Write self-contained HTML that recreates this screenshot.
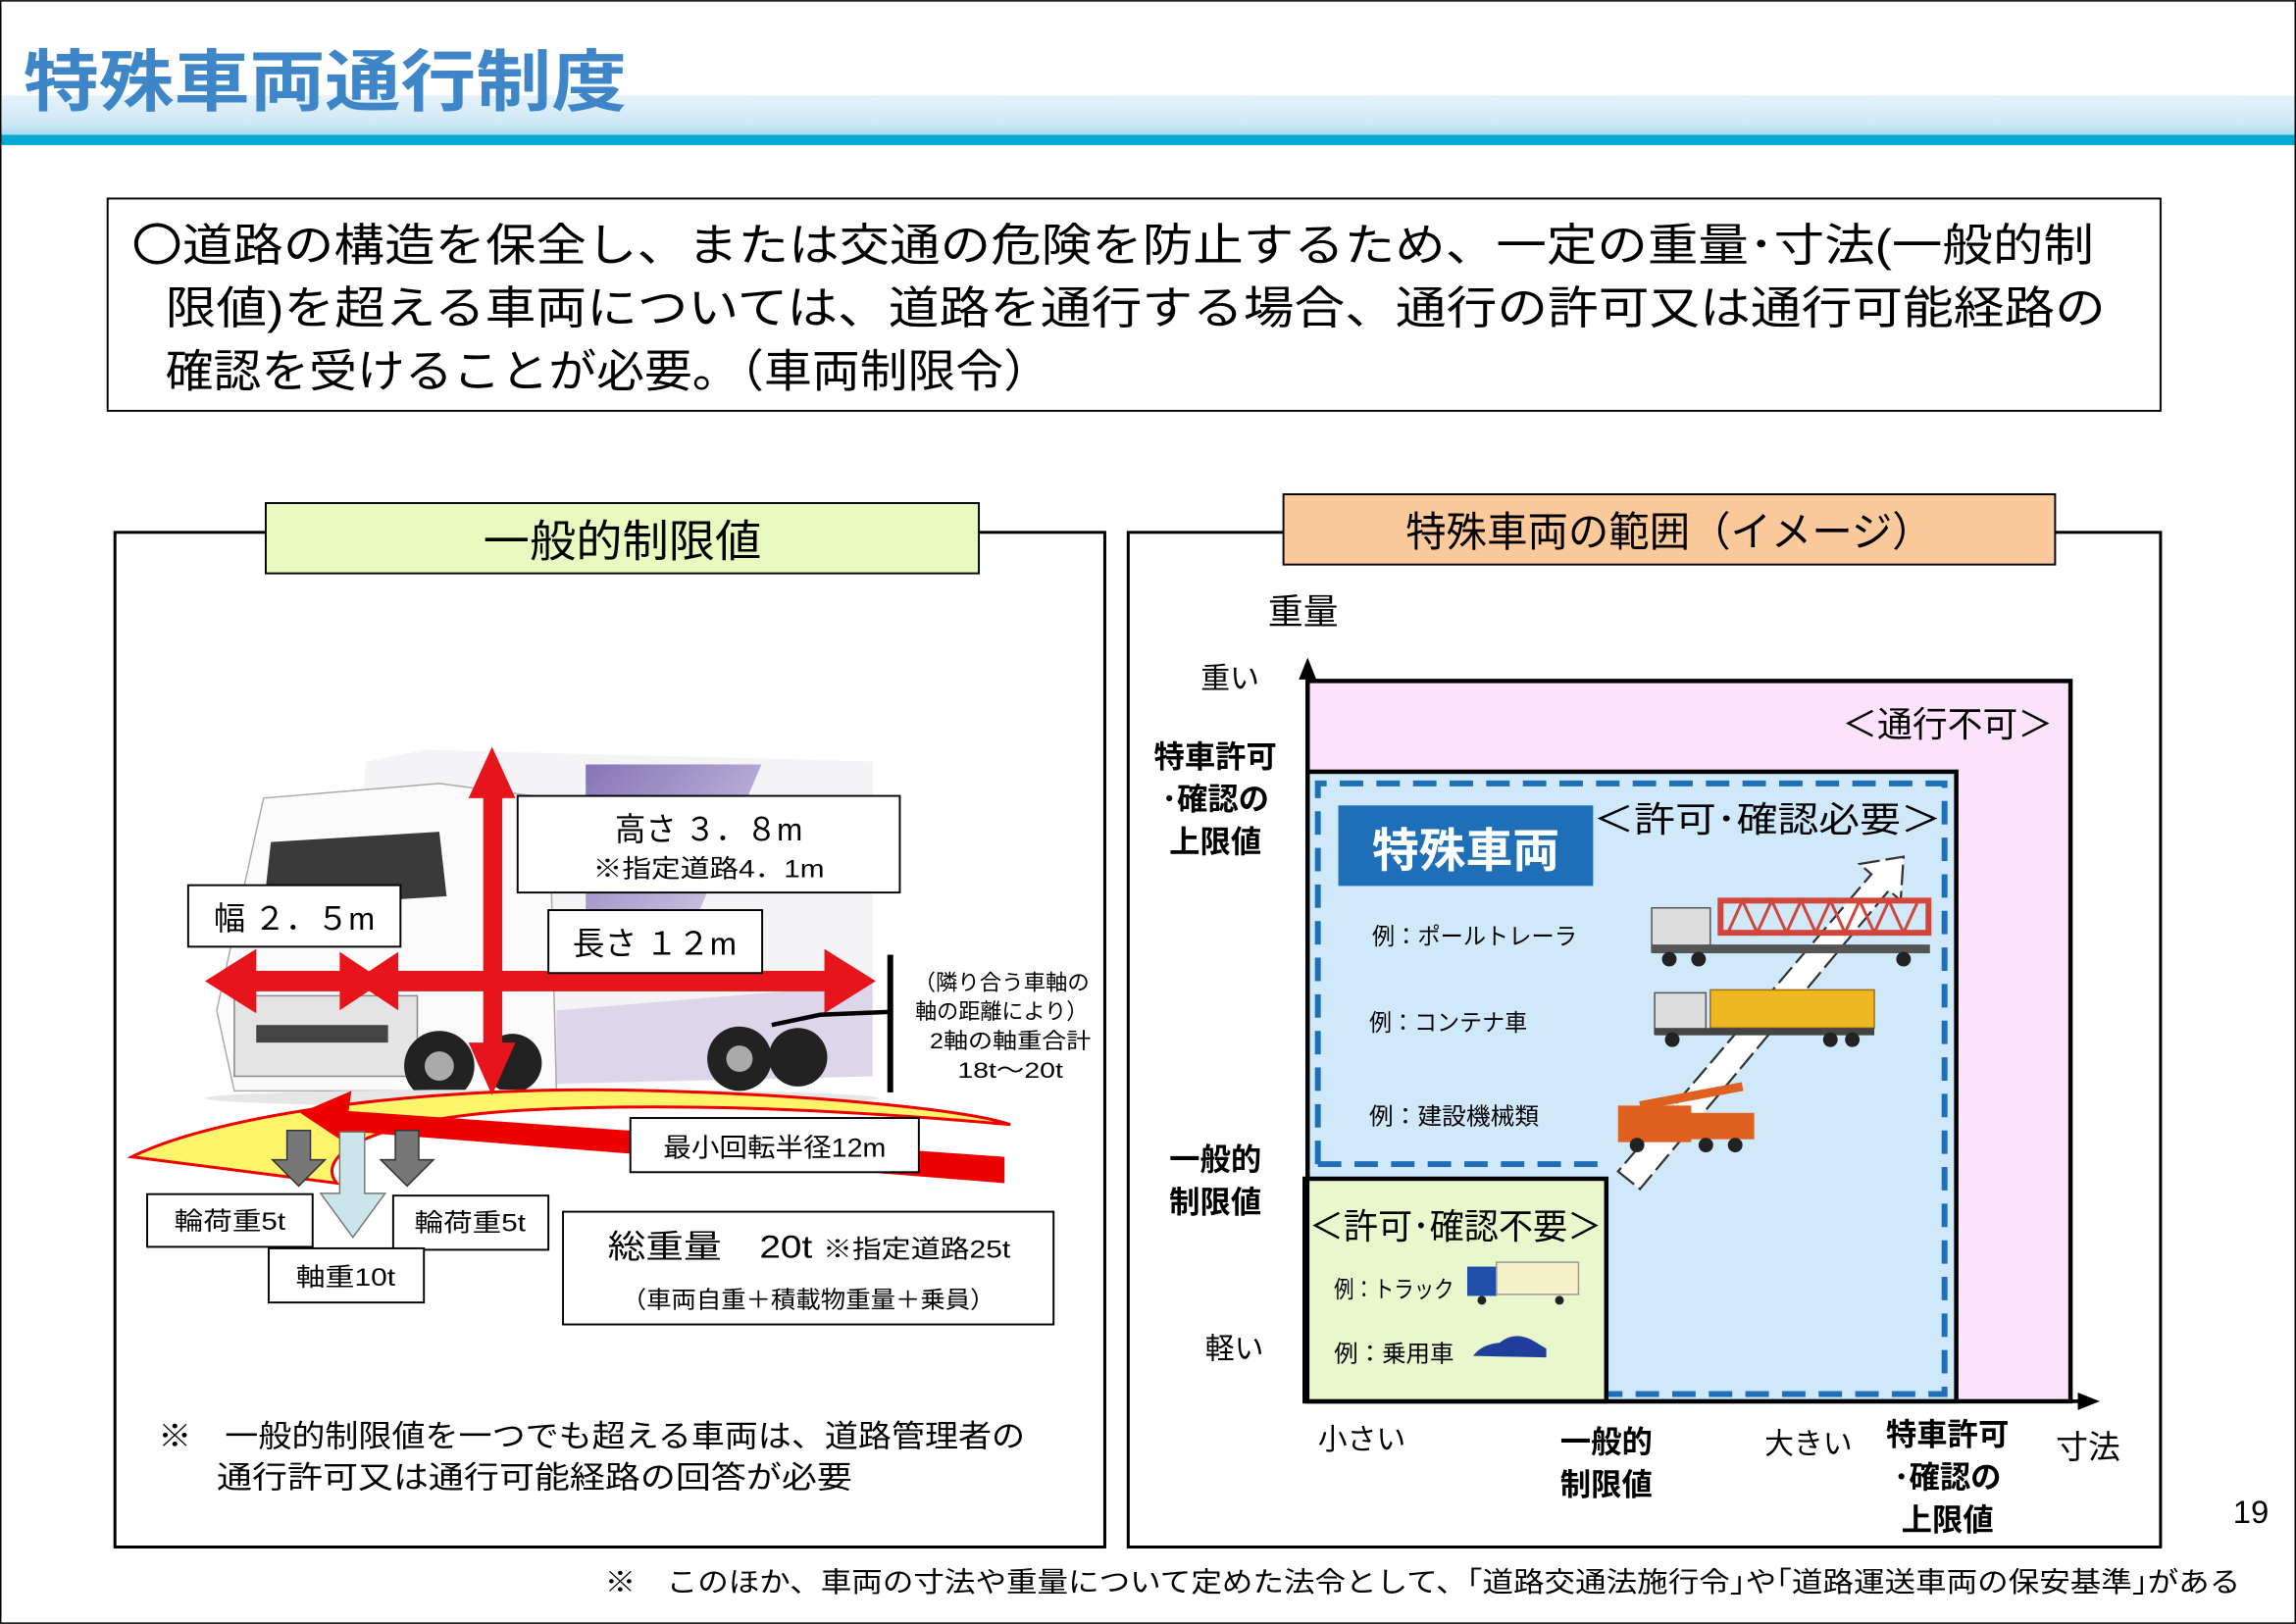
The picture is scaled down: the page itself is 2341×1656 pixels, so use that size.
<!DOCTYPE html>
<html><head><meta charset="utf-8"><style>
html,body{margin:0;padding:0;background:#fff;}
svg{display:block;}
text{font-family:"Liberation Sans","Noto Sans CJK JP",sans-serif;}
</style></head><body>
<svg width="2341" height="1656" viewBox="0 0 1568 1109" xmlns="http://www.w3.org/2000/svg">
<defs>
<linearGradient id="band" x1="0" y1="0" x2="0" y2="1">
<stop offset="0" stop-color="#e4f2fb"/><stop offset="0.7" stop-color="#cfe9f6"/><stop offset="1" stop-color="#a8dcee"/></linearGradient>
<linearGradient id="purp" x1="0" y1="0" x2="1" y2="1"><stop offset="0" stop-color="#6a55a8"/><stop offset="1" stop-color="#d8d0ea"/></linearGradient>
</defs>
<rect x="0.5" y="0.5" width="1567" height="1108" fill="#fff" stroke="#000" stroke-width="1"/>
<rect x="1" y="65" width="1566" height="27" fill="url(#band)"/>
<rect x="1" y="92" width="1566" height="7" fill="#05a8d4"/>
<text x="16" y="72" font-size="46" font-weight="bold" fill="#3f86c8" textLength="412" lengthAdjust="spacingAndGlyphs">特殊車両通行制度</text>
<rect x="73.5" y="135.5" width="1402" height="145" fill="#fff" stroke="#000" stroke-width="1.3"/>
<g font-size="31" fill="#000">
<text x="90" y="178" textLength="1340" lengthAdjust="spacingAndGlyphs">〇道路の構造を保全し、または交通の危険を防止するため、一定の重量･寸法(一般的制</text>
<text x="113" y="221" textLength="1325" lengthAdjust="spacingAndGlyphs">限値)を超える車両については、道路を通行する場合、通行の許可又は通行可能経路の</text>
<text x="113" y="264" textLength="605" lengthAdjust="spacingAndGlyphs">確認を受けることが必要。（車両制限令）</text>
</g>
<rect x="78.5" y="363.5" width="676" height="693" fill="#fff" stroke="#000" stroke-width="2"/>
<rect x="181.5" y="343.5" width="487" height="48" fill="#e8fac0" stroke="#000" stroke-width="1.3"/>
<text x="425" y="380" font-size="30" text-anchor="middle" textLength="190" lengthAdjust="spacingAndGlyphs">一般的制限値</text>
<g>
<path d="M250 520 L290 512 L596 520 L596 735 L230 745 Z" fill="#f4f4f6"/>
<path d="M400 522 L520 522 L470 640 L400 645 Z" fill="url(#purp)" opacity="0.8"/>
<path d="M380 690 L596 672 L596 735 L380 740 Z" fill="#ddd6ea"/>
<path d="M180 545 L300 535 L375 545 L380 745 L160 745 L148 690 Z" fill="#fbfbfb" stroke="#aaa" stroke-width="1"/>
<path d="M185 575 L300 568 L305 612 L180 620 Z" fill="#3a3a3a"/>
<rect x="160" y="680" width="125" height="55" fill="#e4e4e4" stroke="#888"/>
<rect x="175" y="700" width="90" height="12" fill="#444"/>
<circle cx="300" cy="728" r="24" fill="#222"/><circle cx="300" cy="728" r="10" fill="#aaa"/>
<circle cx="505" cy="723" r="22" fill="#222"/><circle cx="505" cy="723" r="9" fill="#aaa"/>
<circle cx="545" cy="722" r="20" fill="#222"/>
<circle cx="350" cy="726" r="20" fill="#222"/>
<ellipse cx="370" cy="750" rx="230" ry="6" fill="#e6e6e6"/>
</g>
<path d="M90 790 C 150 760, 300 740, 450 745 C 560 748, 660 758, 690 768 C 600 760, 480 752, 360 758 C 250 764, 215 790, 230 808 L 90 790 Z" fill="#fff46a" stroke="#e00" stroke-width="2"/>
<path d="M228 758 L 686 790 L 686 808 L 230 772 Z" fill="#e00"/>
<path d="M205 760 L 240 745 L 235 780 Z" fill="#e00"/>
<g fill="#e8141b">
<rect x="330" y="530" width="13" height="200"/>
<polygon points="336,510 320,545 352,545"/><polygon points="336,748 320,712 352,712"/>
<rect x="160" y="663" width="420" height="14"/>
<polygon points="140,670 175,648 175,692"/><polygon points="598,670 563,648 563,692"/>
<polygon points="262,670 232,650 232,690"/><polygon points="242,670 272,650 272,690"/>
</g>
<rect x="353.5" y="543.5" width="261" height="66" fill="#fff" stroke="#000" stroke-width="1.3"/>
<text x="484" y="574" font-size="22" text-anchor="middle" textLength="128" lengthAdjust="spacingAndGlyphs">高さ ３．８m</text>
<text x="484" y="599" font-size="17" text-anchor="middle" textLength="158" lengthAdjust="spacingAndGlyphs">※指定道路4．1m</text>
<rect x="128.5" y="604.5" width="145" height="42" fill="#fff" stroke="#000" stroke-width="1.3"/>
<text x="201" y="635" font-size="22" text-anchor="middle" textLength="110" lengthAdjust="spacingAndGlyphs">幅 ２．５m</text>
<rect x="374.5" y="621.5" width="146" height="43" fill="#fff" stroke="#000" stroke-width="1.3"/>
<text x="447" y="652" font-size="22" text-anchor="middle" textLength="112" lengthAdjust="spacingAndGlyphs">長さ １２m</text>
<rect x="606" y="652" width="4" height="94" fill="#000"/>
<path d="M527 700 L560 693 L608 691" stroke="#000" stroke-width="3" fill="none"/>
<g font-size="15" text-anchor="middle">
<text x="684" y="676" textLength="120" lengthAdjust="spacingAndGlyphs">（隣り合う車軸の</text>
<text x="684" y="696" textLength="118" lengthAdjust="spacingAndGlyphs">軸の距離により）</text>
<text x="690" y="716" textLength="110" lengthAdjust="spacingAndGlyphs">2軸の軸重合計</text>
<text x="690" y="736" textLength="72" lengthAdjust="spacingAndGlyphs">18t～20t</text>
</g>
<rect x="430.5" y="763.5" width="197" height="37" fill="#fff" stroke="#000" stroke-width="1.3"/>
<text x="529" y="790" font-size="18" text-anchor="middle" textLength="152" lengthAdjust="spacingAndGlyphs">最小回転半径12m</text>
<path d="M196 772 h16 v20 h10 l-18 18 l-18 -18 h10 z" fill="#777" stroke="#333"/>
<path d="M270 772 h16 v20 h10 l-18 18 l-18 -18 h10 z" fill="#777" stroke="#333"/>
<path d="M232 773 h17 v42 h14 l-22 30 l-22 -30 h13 z" fill="#cbe6ea" stroke="#777"/>
<rect x="100.5" y="815.5" width="113" height="36" fill="#fff" stroke="#000" stroke-width="1.3"/>
<text x="157" y="840" font-size="17" text-anchor="middle" textLength="76" lengthAdjust="spacingAndGlyphs">輪荷重5t</text>
<rect x="268.5" y="816.5" width="106" height="37" fill="#fff" stroke="#000" stroke-width="1.3"/>
<text x="321" y="841" font-size="17" text-anchor="middle" textLength="76" lengthAdjust="spacingAndGlyphs">輪荷重5t</text>
<rect x="183.5" y="852.5" width="106" height="37" fill="#fff" stroke="#000" stroke-width="1.3"/>
<text x="236" y="878" font-size="17" text-anchor="middle" textLength="68" lengthAdjust="spacingAndGlyphs">軸重10t</text>
<rect x="384.5" y="827.5" width="335" height="77" fill="#fff" stroke="#000" stroke-width="1.3"/>
<text x="415" y="859" font-size="22" textLength="275" lengthAdjust="spacingAndGlyphs">総重量　20t <tspan font-size="17">※指定道路25t</tspan></text>
<text x="552" y="893" font-size="16" text-anchor="middle" textLength="255" lengthAdjust="spacingAndGlyphs">（車両自重＋積載物重量＋乗員）</text>
<text x="108" y="988" font-size="21" textLength="592" lengthAdjust="spacingAndGlyphs">※　一般的制限値を一つでも超える車両は、道路管理者の</text>
<text x="148" y="1016" font-size="21" textLength="434" lengthAdjust="spacingAndGlyphs">通行許可又は通行可能経路の回答が必要</text>
<rect x="770.5" y="363.5" width="705" height="693" fill="#fff" stroke="#000" stroke-width="2"/>
<rect x="876.5" y="337.5" width="527" height="48" fill="#fbc99a" stroke="#000" stroke-width="1.3"/>
<text x="1140" y="373" font-size="28" text-anchor="middle" textLength="360" lengthAdjust="spacingAndGlyphs">特殊車両の範囲（イメージ）</text>
<text x="866" y="426" font-size="24">重量</text>
<rect x="893" y="465" width="521" height="492" fill="#fce2fa" stroke="#000" stroke-width="3"/>
<rect x="893" y="527" width="443" height="430" fill="#cfe8fa" stroke="#000" stroke-width="3"/>
<path d="M900 795 V535 H1328 V952 H1097" fill="none" stroke="#1f6fb8" stroke-width="4" stroke-dasharray="16,9"/>
<path d="M900 795 H1097" fill="none" stroke="#1f6fb8" stroke-width="4" stroke-dasharray="16,9"/>
<rect x="891" y="805" width="206" height="152" fill="#e8f8cc" stroke="#000" stroke-width="3"/>
<path d="M893 957 V462" stroke="#000" stroke-width="2.5"/>
<polygon points="893,449 887,464 899,464" fill="#000"/>
<path d="M893 957 H1420" stroke="#000" stroke-width="2.5"/>
<polygon points="1434,957 1419,951 1419,963" fill="#000"/>
<path d="M1105 800 L1120 812 L1290 608 L1298 615 L1300 585 L1270 590 L1278 597 L1105 800 Z" fill="#fff" stroke="#333" stroke-width="1.5" stroke-dasharray="14,4"/>
<text x="1402" y="503" font-size="24" text-anchor="end">＜通行不可＞</text>
<rect x="914" y="550" width="174" height="55" fill="#1f6fb8"/>
<text x="1001" y="592" font-size="32" font-weight="bold" fill="#fff" text-anchor="middle">特殊車両</text>
<text x="1088" y="568" font-size="24" textLength="238" lengthAdjust="spacingAndGlyphs">＜許可･確認必要＞</text>
<text x="937" y="645" font-size="16" textLength="140" lengthAdjust="spacingAndGlyphs">例：ポールトレーラ</text>
<text x="935" y="704" font-size="16" textLength="108" lengthAdjust="spacingAndGlyphs">例：コンテナ車</text>
<text x="935" y="768" font-size="16" textLength="116" lengthAdjust="spacingAndGlyphs">例：建設機械類</text>
<g>
<rect x="1128" y="620" width="40" height="30" fill="#ddd" stroke="#555"/>
<rect x="1175" y="615" width="142" height="22" fill="none" stroke="#d2453b" stroke-width="4"/>
<path d="M1180 637 l10 -22 l10 22 l10 -22 l10 22 l10 -22 l10 22 l10 -22 l10 22 l10 -22 l10 22 l10 -22 l10 22 l10 -22" stroke="#d2453b" stroke-width="2" fill="none"/>
<rect x="1128" y="645" width="190" height="6" fill="#555"/>
<circle cx="1140" cy="655" r="5" fill="#222"/><circle cx="1160" cy="655" r="5" fill="#222"/><circle cx="1300" cy="655" r="5" fill="#222"/>
<rect x="1130" y="678" width="35" height="28" fill="#ddd" stroke="#555"/>
<rect x="1168" y="676" width="112" height="26" fill="#f0b820" stroke="#a07010"/>
<rect x="1130" y="702" width="150" height="5" fill="#444"/>
<circle cx="1142" cy="710" r="5" fill="#222"/><circle cx="1250" cy="710" r="5" fill="#222"/><circle cx="1265" cy="710" r="5" fill="#222"/>
<rect x="1105" y="755" width="50" height="25" fill="#e06020"/>
<path d="M1120 755 L1190 742" stroke="#e06020" stroke-width="6"/>
<rect x="1150" y="760" width="48" height="18" fill="#e06020"/>
<circle cx="1118" cy="782" r="5" fill="#222"/><circle cx="1165" cy="782" r="5" fill="#222"/><circle cx="1185" cy="782" r="5" fill="#222"/>
<rect x="1002" y="865" width="20" height="20" fill="#1f4fa8"/>
<rect x="1022" y="862" width="56" height="22" fill="#f4f0c8" stroke="#999"/>
<circle cx="1012" cy="888" r="3" fill="#222"/><circle cx="1065" cy="888" r="3" fill="#222"/>
<path d="M1006 926 q6 -8 18 -9 q10 -8 22 -2 l10 6 l0 6 z" fill="#1f3f9a"/>
</g>
<text x="894" y="846" font-size="24" textLength="200" lengthAdjust="spacingAndGlyphs">＜許可･確認不要＞</text>
<text x="911" y="886" font-size="16" textLength="82" lengthAdjust="spacingAndGlyphs">例：トラック</text>
<text x="911" y="930" font-size="16" textLength="82" lengthAdjust="spacingAndGlyphs">例：乗用車</text>
<text x="840" y="470" font-size="20" text-anchor="middle">重い</text>
<g font-size="21" font-weight="bold" text-anchor="middle">
<text x="830" y="524">特車許可</text><text x="830" y="553">･確認の</text><text x="830" y="582">上限値</text>
<text x="830" y="799">一般的</text><text x="830" y="828">制限値</text>
<text x="1097" y="992">一般的</text><text x="1097" y="1021">制限値</text>
<text x="1330" y="987">特車許可</text><text x="1330" y="1016">･確認の</text><text x="1330" y="1045">上限値</text>
</g>
<text x="843" y="928" font-size="20" text-anchor="middle">軽い</text>
<text x="930" y="990" font-size="20" text-anchor="middle">小さい</text>
<text x="1235" y="993" font-size="20" text-anchor="middle">大きい</text>
<text x="1426" y="996" font-size="22" text-anchor="middle">寸法</text>
<text x="1525" y="1040" font-size="22">19</text>
<text x="413" y="1087" font-size="19" textLength="1117" lengthAdjust="spacingAndGlyphs">※　このほか、車両の寸法や重量について定めた法令として、｢道路交通法施行令｣や｢道路運送車両の保安基準｣がある</text>
</svg>
</body></html>
